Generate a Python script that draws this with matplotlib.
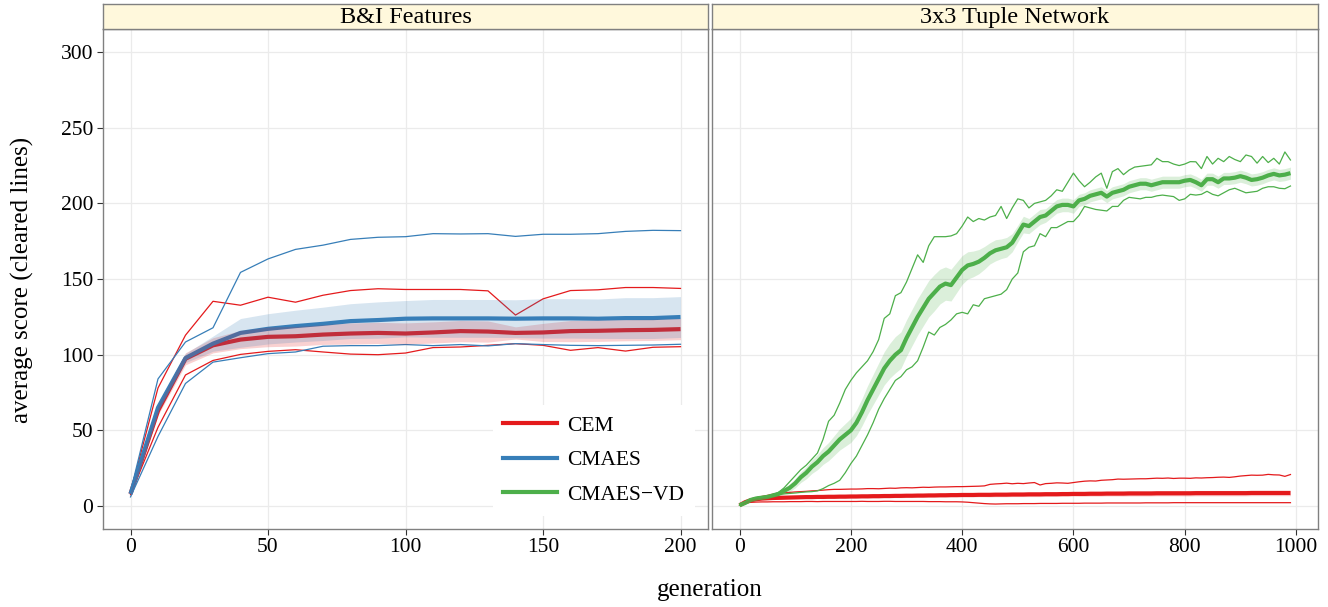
import numpy as np
import matplotlib
matplotlib.use("Agg")
import matplotlib.pyplot as plt
from matplotlib.lines import Line2D

plt.rcParams['font.family'] = ['Liberation Serif', 'DejaVu Serif']

RED = '#E41A1C'
BLUE = '#377EB8'
GREEN = '#4DAF4A'

# ---- left panel: B&I features, every 10 generations (0..200)
gen_bi = np.arange(0, 201, 10)
cem_bi_mean = [8, 63, 97.3, 106.2, 110, 111.8, 112.2, 113.3, 114, 114.4, 114,
               114.7, 115.6, 115.3, 114.4, 114.7, 115.6, 115.8, 116.2, 116.4, 116.9]
cem_bi_min = [7.5, 52, 86.6, 96.2, 100.2, 102.2, 103.3, 101.8, 100.4, 100, 101.1,
              104.7, 105.1, 106.2, 107.3, 106.2, 102.9, 104.7, 102.4, 104.9, 105.3]
cem_bi_max = [9, 78, 112.9, 135.3, 132.7, 138, 134.7, 139.3, 142.4, 143.6, 143.1,
              143.1, 143.1, 142.2, 126.2, 136.9, 142.4, 142.9, 144.4, 144.4, 143.8]
cem_bi_ci = [1, 3, 4, 5, 6, 6.5, 6.5, 6.5, 7, 7, 7, 7, 7, 7, 4, 6, 7, 7, 7, 7, 7]

cmaes_bi_mean = [8, 65, 97.8, 107.3, 114.4, 117.1, 118.9, 120.4, 122.2, 122.9, 123.8,
                 124, 124, 124, 123.8, 124, 124, 123.8, 124.2, 124.2, 124.9]
cmaes_bi_min = [6, 46, 81, 95.1, 98, 100.7, 101.8, 105.6, 106, 106, 106.7,
                106, 106.7, 105.8, 107.3, 106.7, 106.2, 106, 106.2, 106.4, 106.9]
cmaes_bi_max = [9.5, 84, 108.4, 117.8, 154.4, 163.3, 169.6, 172.4, 176.2, 177.6, 178,
                180, 179.8, 180, 178.2, 179.6, 179.6, 180, 181.5, 182.2, 182]
cmaes_bi_ci = [1, 3, 3, 5, 9.5, 10, 10.5, 11, 11.5, 12, 12, 12.5, 12.5, 12.5, 12.5,
               13, 13, 13, 13.5, 13.5, 13.5]

# ---- right panel: 3x3 tuple network, every 10 generations (0..990)
gen_tn = np.arange(0, 1000, 10)
vd_tn_mean = [0.5, 2, 4, 5, 5.5, 6, 7, 8, 10, 12,
              15, 19, 22, 26, 29, 33, 36, 40, 44, 47,
              50, 55, 62, 70, 77, 84, 91, 96, 100, 103,
              111, 118, 125, 131, 137, 141, 145, 147, 146, 151,
              156, 159, 160, 161.5, 164, 167, 169, 170, 171, 174,
              180, 186, 185, 188, 191, 192, 195, 198, 199, 199,
              198, 202, 203, 205, 206, 207, 204.5, 207, 208, 209,
              211, 212, 213, 213, 212, 213, 214, 214, 214, 214,
              215, 215.5, 214, 212, 216, 216, 214, 216.5, 216.5, 217,
              218, 217, 215.5, 216, 217, 218.5, 219.5, 218.5, 219, 220]
vd_tn_min = [0.5, 2, 4, 5, 5.5, 6, 7, 7.5, 8, 8.3,
             8.6, 9, 9.3, 9.5, 10, 11.5, 13.5, 15, 17, 22,
             28, 33, 40, 47, 55, 64, 71, 77, 83, 85.5,
             90, 92, 96, 105, 115, 113, 118, 120, 123, 127,
             128, 127, 133, 132, 137, 138, 139, 140, 143, 150,
             154, 168, 171, 172, 180, 178, 184, 184, 186, 188,
             188, 192, 198, 197, 196, 195.5, 195, 198, 198, 202,
             204, 203.5, 203, 204, 204, 205, 205.5, 205, 204.5, 202,
             203, 206, 205.5, 206, 208, 206, 205, 207, 209, 210,
             208.5, 207, 207.5, 208, 210, 211, 211, 210, 209.7, 211.5]
vd_tn_max = [0.5, 2.5, 4.5, 5.5, 6, 6.5, 7.5, 9, 12, 16,
             20, 24, 27, 31, 35, 44, 56, 60, 68, 77,
             83, 88, 92, 96, 102, 110, 124, 127, 139, 141,
             148, 157, 166, 161, 172, 178, 178, 178, 178.5, 180,
             185, 191, 188, 190, 189, 191, 192, 198, 190, 197,
             203, 202, 197, 200, 201, 202, 205, 209, 208, 214,
             220, 215, 211, 214, 217.5, 220, 210, 221, 223, 219,
             222, 224, 224.5, 225, 225.5, 229.8, 227.6, 227.6, 226, 225,
             226, 227.6, 227.5, 223, 231, 226, 229.8, 227.6, 231, 229,
             227.6, 232, 231, 226.6, 231, 227, 229.8, 226, 234, 228.7]
vd_tn_ci = [0.3, 0.5, 0.8, 1, 1, 1, 1.2, 1.5, 2, 2.5,
            3, 3.5, 4, 4.5, 5, 5.5, 6, 6.5, 7, 7.5,
            8, 8.5, 9, 9.5, 10, 10.5, 11, 11.5, 12, 12,
            12, 12, 12, 12, 12, 12, 11.5, 11, 10.5, 10,
            9.5, 9, 8.5, 8, 7.5, 7, 7, 6.5, 6.5, 6,
            5.5, 5.5, 5, 5, 5, 4.5, 4.5, 4.5, 4.5, 4.5,
            4.5, 4, 4, 4, 4, 4, 4, 4, 4, 4,
            4, 4, 4, 4, 4, 4, 4, 4, 4, 4,
            4, 4, 4, 4, 4, 4, 4, 4, 4, 4,
            4, 4, 4, 4, 4, 4, 4, 4, 4, 4]

cem_tn_mean = [0.5, 2.5, 3.8, 4.5, 4.9, 5.1, 5.3, 5.4, 5.5, 5.6,
               5.7, 5.8, 5.9, 5.9, 6.0, 6.0, 6.1, 6.1, 6.2, 6.2,
               6.3, 6.3, 6.4, 6.4, 6.5, 6.5, 6.6, 6.6, 6.7, 6.7,
               6.8, 6.8, 6.9, 6.9, 7.0, 7.0, 7.1, 7.1, 7.2, 7.2,
               7.3, 7.3, 7.3, 7.4, 7.4, 7.4, 7.5, 7.5, 7.5, 7.6,
               7.6, 7.6, 7.7, 7.7, 7.7, 7.8, 7.8, 7.8, 7.9, 7.9,
               8.0, 8.0, 8.0, 8.1, 8.1, 8.1, 8.2, 8.2, 8.2, 8.2,
               8.3, 8.3, 8.3, 8.3, 8.3, 8.4, 8.4, 8.4, 8.4, 8.4,
               8.4, 8.4, 8.5, 8.5, 8.5, 8.5, 8.5, 8.5, 8.5, 8.5,
               8.5, 8.5, 8.6, 8.6, 8.6, 8.6, 8.6, 8.6, 8.6, 8.6]
cem_tn_min = [0.5, 2.0, 2.4, 2.6, 2.7, 2.7, 2.8, 2.8, 2.8, 2.9,
              2.9, 2.9, 3.0, 3.0, 2.9, 3.0, 3.0, 3.0, 3.0, 3.0,
              3.0, 3.0, 3.1, 3.0, 3.0, 3.0, 3.1, 3.1, 3.0, 3.0,
              3.0, 3.0, 3.0, 3.0, 2.9, 2.9, 2.9, 2.8, 2.8, 2.8,
              2.7, 2.5, 2.2, 1.9, 1.6, 1.4, 1.3, 1.4, 1.5, 1.5,
              1.5, 1.6, 1.6, 1.6, 1.7, 1.7, 1.7, 1.7, 1.8, 1.8,
              1.8, 1.8, 1.9, 1.9, 1.9, 1.9, 2.0, 2.0, 2.0, 2.0,
              2.0, 2.0, 2.0, 2.1, 2.1, 2.1, 2.1, 2.1, 2.2, 2.2,
              2.2, 2.2, 2.2, 2.2, 2.2, 2.2, 2.2, 2.2, 2.2, 2.2,
              2.2, 2.2, 2.2, 2.2, 2.2, 2.2, 2.2, 2.2, 2.2, 2.2]
cem_tn_max = [0.5, 3, 4.5, 5.5, 6.3, 7, 7.8, 8.3, 8.7, 9,
              9.3, 9.5, 9.7, 10, 10.2, 10.5, 10.8, 11, 11, 11.1,
              11.2, 11.2, 11.3, 11.5, 11.5, 11.4, 11.6, 11.8, 11.7, 12,
              12.1, 12, 12.2, 12.4, 12.3, 12.5, 12.6, 12.6, 12.7, 12.8,
              12.8, 12.9, 13.0, 13.1, 13.3, 14.3, 14.6, 14.8, 15.1, 14.7,
              15, 14.8, 15.2, 15.5, 13.9, 14.8, 15, 15.3, 15.2, 15.0,
              15.5, 16, 16.4, 16.6, 16.5, 17, 17.2, 17.4, 17.8, 17.7,
              17.8, 17.9, 18, 18, 18.2, 18.4, 18.3, 18.5, 18.2, 18.4,
              18.4, 18.3, 18.6, 18.5, 18.7, 18.8, 19, 19.1, 18.9, 19.3,
              19.8, 20.1, 20.4, 20.3, 20.4, 20.9, 20.6, 20.5, 19.6, 20.8]
cem_tn_ci = [0.1, 0.5, 0.6, 0.7, 0.7, 0.8, 0.8, 0.9, 0.9, 0.9,
             1.0, 1.0, 1.0, 1.0, 1.0, 1.1, 1.1, 1.1, 1.1, 1.1,
             1.1, 1.1, 1.1, 1.2, 1.2, 1.2, 1.2, 1.2, 1.2, 1.2,
             1.2, 1.2, 1.2, 1.2, 1.2, 1.2, 1.2, 1.2, 1.2, 1.2,
             1.3, 1.3, 1.3, 1.3, 1.3, 1.4, 1.4, 1.4, 1.4, 1.4,
             1.4, 1.4, 1.5, 1.5, 1.5, 1.5, 1.5, 1.5, 1.5, 1.5,
             1.5, 1.6, 1.6, 1.6, 1.6, 1.6, 1.6, 1.6, 1.6, 1.7,
             1.7, 1.7, 1.7, 1.7, 1.7, 1.7, 1.7, 1.7, 1.7, 1.7,
             1.8, 1.8, 1.8, 1.8, 1.8, 1.8, 1.8, 1.8, 1.8, 1.8,
             1.8, 1.8, 1.8, 1.8, 1.8, 1.8, 1.8, 1.8, 1.8, 1.8]

panels = [
    ("B&I Features", gen_bi, [
        (RED, cem_bi_mean, cem_bi_min, cem_bi_max, cem_bi_ci),
        (BLUE, cmaes_bi_mean, cmaes_bi_min, cmaes_bi_max, cmaes_bi_ci)],
     [0, 50, 100, 150, 200]),
    ("3x3 Tuple Network", gen_tn, [
        (RED, cem_tn_mean, cem_tn_min, cem_tn_max, cem_tn_ci),
        (GREEN, vd_tn_mean, vd_tn_min, vd_tn_max, vd_tn_ci)],
     [0, 200, 400, 600, 800, 1000]),
]

W, H = 1328, 607
fig = plt.figure(figsize=(W / 100, H / 100), dpi=100)

# pixel boxes (left, right) for each panel, shared top/bottom
boxes = [(103, 708), (712, 1318)]
top_px, bot_px, strip_top = 29.4, 528.7, 4
axes = []
for (x0, x1), (title, gens, series, xt) in zip(boxes, panels):
    ax = fig.add_axes([x0 / W, 1 - bot_px / H, (x1 - x0) / W, (bot_px - top_px) / H])
    sax = fig.add_axes([x0 / W, 1 - top_px / H, (x1 - x0) / W, (top_px - strip_top) / H])
    sax.set_facecolor('#FFF8DC')
    sax.set_xticks([])
    sax.set_yticks([])
    for s in sax.spines.values():
        s.set_color('#808080')
        s.set_linewidth(1)
    sax.text(0.5, 0.45, title, ha='center', va='center', fontsize=17.5,
             transform=sax.transAxes)

    for color, mean, lo, hi, ci in series:
        ax.plot(gens, mean, color=color, lw=3.0, solid_capstyle='butt', zorder=3)
        ax.plot(gens, lo, color=color, lw=0.9, zorder=3)
        ax.plot(gens, hi, color=color, lw=0.9, zorder=3)
    for color, mean, lo, hi, ci in series:
        mean = np.array(mean)
        ci = np.array(ci)
        ax.fill_between(gens, mean - ci, mean + ci, color=color, alpha=0.2,
                        lw=0, zorder=4)

    span = gens[-1] - gens[0]
    ax.set_xlim(gens[0] - 0.05 * span, gens[-1] + 0.05 * span)
    ax.set_ylim(-15, 315)
    ax.set_xticks(xt)
    ax.set_yticks([0, 50, 100, 150, 200, 250, 300])
    ax.grid(True, color='#EBEBEB', lw=0.9, zorder=0)
    ax.set_axisbelow(True)
    for s in ax.spines.values():
        s.set_color('#808080')
        s.set_linewidth(1)
    ax.tick_params(direction='out', length=4, width=0.8, color='#333333',
                   labelsize=15.5, labelcolor='black', pad=3)
    axes.append(ax)

axes[1].tick_params(axis='y', left=False, labelleft=False)

handles = [Line2D([], [], color=c, lw=3) for c in (RED, BLUE, GREEN)]
leg = axes[0].legend(handles, ['CEM', 'CMAES', 'CMAES\u2212VD'], loc='lower right',
                     bbox_to_anchor=(0.978, 0.026), fontsize=15.5, frameon=True,
                     facecolor='white', edgecolor='none', framealpha=1,
                     fancybox=False, handlelength=2.5, labelspacing=0.68,
                     borderpad=0.5, handletextpad=0.45, borderaxespad=0)
leg.set_zorder(6)

fig.text(710 / W, 1 - 590 / H, 'generation', ha='center', va='center', fontsize=18)
fig.text(22 / W, 1 - 280 / H, 'average score (cleared lines)', ha='center',
         va='center', rotation=90, fontsize=18)

fig.savefig('out.png', dpi=100)
